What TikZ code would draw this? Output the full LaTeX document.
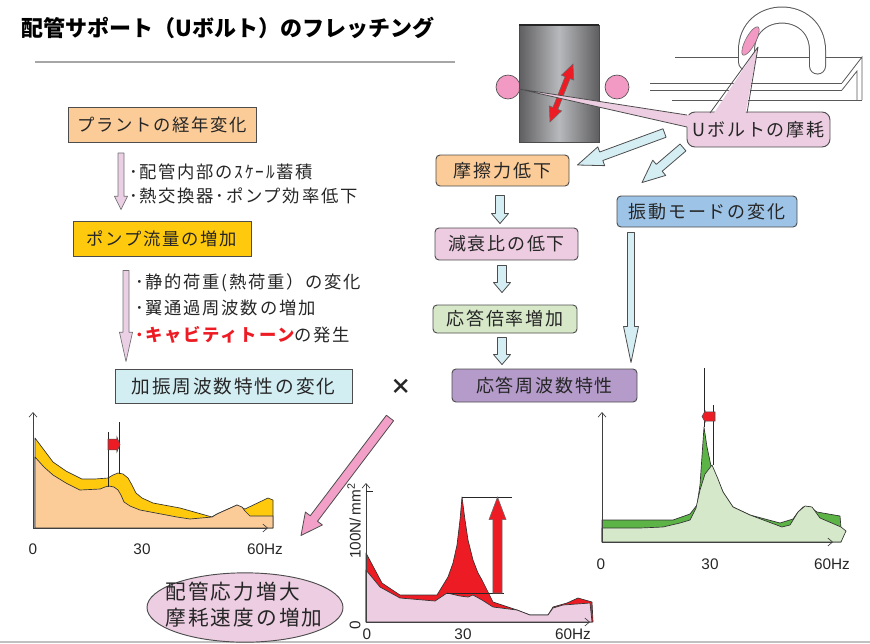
\documentclass[tikz,border=0pt]{standalone}
\usepackage{fontspec}
\setmainfont{Noto Sans CJK JP}[LetterSpace=10]
\newfontfamily\headfont{Noto Sans CJK JP}
\newfontfamily\numfont{Liberation Sans}
\usetikzlibrary{calc,shapes.geometric,arrows.meta}

\definecolor{peach}{HTML}{FBCB98}
\definecolor{gold}{HTML}{FFC90E}
\definecolor{paleblue}{HTML}{D3EEF3}
\definecolor{rosebox}{HTML}{EDCBE1}
\definecolor{mint}{HTML}{D6E8C8}
\definecolor{lilac}{HTML}{B49BCA}
\definecolor{skyb}{HTML}{9DC3E6}
\definecolor{arrowcyan}{HTML}{D5EEF4}
\definecolor{edge}{HTML}{4D4D4D}
\definecolor{txt}{HTML}{262626}
\definecolor{hotpink}{HTML}{F3A0C8}
\definecolor{redd}{HTML}{ED1C24}
\definecolor{leaf}{HTML}{5CB446}
\definecolor{paleleaf}{HTML}{D5E8C9}
\definecolor{palerose}{HTML}{ECCDE1}
\definecolor{lavfill}{HTML}{EBD0E5}
\definecolor{rulegray}{HTML}{A6A6A6}
\definecolor{cylD}{HTML}{5E5E60}
\definecolor{cylL}{HTML}{B8B9BC}
\definecolor{ringpink}{HTML}{F29AC3}

% block arrow: style, tail, tip, shaft half width, head half width, head length
\newcommand\blkarrow[6]{%
  \coordinate (ba-s) at (#2);
  \coordinate (ba-t) at (#3);
  \coordinate (ba-h) at ($(ba-t)!#6!(ba-s)$);
  \filldraw[#1] ($(ba-s)!#4!90:(ba-t)$) -- ($(ba-h)!#4!90:(ba-t)$) --
    ($(ba-h)!#5!90:(ba-t)$) -- (ba-t) -- ($(ba-h)!#5!-90:(ba-t)$) --
    ($(ba-h)!#4!-90:(ba-t)$) -- ($(ba-s)!#4!-90:(ba-t)$) -- cycle;
}
% double-headed block arrow: style, end A, end B, shaft half width, head half width, head length
\newcommand\dblarrow[6]{%
  \coordinate (da-s) at (#2);
  \coordinate (da-t) at (#3);
  \coordinate (da-h) at ($(da-t)!#6!(da-s)$);
  \coordinate (da-g) at ($(da-s)!#6!(da-t)$);
  \filldraw[#1] ($(da-g)!#4!90:(da-t)$) -- ($(da-h)!#4!90:(da-t)$) --
    ($(da-h)!#5!90:(da-t)$) -- (da-t) -- ($(da-h)!#5!-90:(da-t)$) --
    ($(da-h)!#4!-90:(da-t)$) -- ($(da-g)!#4!-90:(da-t)$) --
    ($(da-g)!#5!-90:(da-t)$) -- (da-s) -- ($(da-g)!#5!90:(da-t)$) -- cycle;
}

\tikzset{
  box/.style={draw=edge, line width=0.7pt, inner sep=0pt, text=txt,
    font=\fontsize{13.5}{16}\selectfont},
  rbox/.style={box, rounded corners=3pt},
  bullet/.style={anchor=west, inner sep=0pt, text=txt, font=\fontsize{13}{16}\selectfont},
  axis/.style={draw=black!75, line width=0.5pt, -{Straight Barb[length=3.5pt,width=6pt]}},
  curve/.style={draw=black!80, line width=0.5pt, line join=round},
  tick/.style={inner sep=0pt, text=txt, font=\numfont\fontsize{11.5}{13}\selectfont},
  guide/.style={draw=black!85, line width=0.5pt},
  cyanarrow/.style={fill=arrowcyan, draw=edge, line width=0.6pt, line join=round},
  lavarrow/.style={fill=lavfill, draw=edge!80, line width=0.5pt, line join=round},
  plate/.style={draw=black!65, line width=0.6pt},
}

\begin{document}
\begin{tikzpicture}[x=0.75pt,y=-0.75pt]
\useasboundingbox (0,0) rectangle (870,643);

% ---------- heading ----------
\node[anchor=west, inner sep=0pt, text=black,
  font=\headfont\bfseries\fontsize{16.5}{19}\selectfont] (title) at (21,28)
  {配管サポート（Uボルト）のフレッチング};
\draw[rulegray, line width=2pt] (35,62) -- (455,62);
\draw[rulegray!70, line width=1.5pt] (0,641.8) -- (870,641.8);

% ---------- pipe with support pads ----------
\filldraw[fill=ringpink, draw=black!70, line width=0.5pt] (508,87) circle[radius=12];
\filldraw[fill=ringpink, draw=black!70, line width=0.5pt] (617,87) circle[radius=12];
\shade[left color=cylD, right color=cylD, middle color=cylL] (519,25) rectangle (599,142);
\draw[black!70, line width=0.5pt] (519,25) rectangle (599,142);
\draw[black!85, line width=1.2pt] (519,25) -- (599,25);
\dblarrow{fill=redd, draw=black!60, line width=0.4pt}{550,122}{573,64}{2pt}{5pt}{11pt}

% ---------- angle steel and U-bolt ----------
\draw[plate] (675,57) -- (862,57);
\draw[plate] (650,83) -- (842,83);
\draw[plate] (650,90) -- (842,90);
\draw[plate] (842,83) -- (862,57) -- (862,100);
\draw[plate] (842,90) -- (857,71) -- (857,100);
\draw[plate] (672,100) -- (862,100);
\draw[black!65, line width=12.75pt, line cap=round]
  (746.5,62) -- (746.5,50.5) .. controls (746.5,3.2) and (817.5,3.2) .. (817.5,50.5) -- (817.5,66);
\draw[white, line width=11.25pt, line cap=round]
  (746.5,62) -- (746.5,50.5) .. controls (746.5,3.2) and (817.5,3.2) .. (817.5,50.5) -- (817.5,66);
\node[ellipse, fill=ringpink, draw=black!60, line width=0.4pt, inner sep=0pt,
  minimum width=24pt, minimum height=7.5pt, rotate=62] (wearspot) at (750.5,41) {};

% ---------- callout ----------
\node[fill=palerose, draw=edge, line width=0.7pt, rounded corners=6pt,
  minimum width=107.25pt, minimum height=26.25pt, inner sep=0pt] (wearbox) at (758.5,129.5) {};
\fill[palerose] (519,89) -- (691,115.6) -- (691,127.9) -- cycle;
\draw[edge, line width=0.6pt, line join=round] (687,115) -- (519,89) -- (687,127);
\fill[palerose] (712,116) -- (758,47) -- (745,116) -- cycle;
\draw[edge, line width=0.6pt, line join=round] (710,113) -- (758,47) -- (747,113);
\node[inner sep=0pt, text=txt, font=\fontsize{13.5}{16}\selectfont] (wear) at (wearbox.center) {Uボルトの摩耗};

% ---------- left chain ----------
\node[box, fill=peach, minimum width=141pt, minimum height=26.25pt, font=\fontsize{13}{16}\selectfont]
  (plant) at (162,125) {プラントの経年変化};
\node[box, fill=gold, minimum width=133.5pt, minimum height=26.25pt, font=\fontsize{13}{16}\selectfont]
  (pump) at (162,238.5) {ポンプ流量の増加};
\node[box, fill=paleblue, minimum width=177.75pt, minimum height=25.5pt, font=\fontsize{14}{16}\selectfont]
  (excite) at (233.5,386) {加振周波数特性の変化};

\blkarrow{lavarrow}{$(plant.south)+(-41,10)$}{$(pump.north)+(-41,-11)$}{2.25pt}{4.9pt}{10pt}
\blkarrow{lavarrow}{$(pump.south)+(-36,14)$}{$(excite.north)+(-107.5,-7)$}{2.25pt}{4.9pt}{22pt}

\node[bullet] (b1) at (129,172) {･配管内部のｽｹｰﾙ蓄積};
\node[bullet] (b2) at (129,196) {･熱交換器･ポンプ効率低下};
\node[bullet] (b3) at (135,283) {･静的荷重(熱荷重）の変化};
\node[bullet] (b4) at (135,308) {･翼通過周波数の増加};
\node[bullet] (b5) at (135,335) {{\color{redd}\bfseries ･キャビティトーン}の発生};

\node[inner sep=0pt, text=txt, font=\bfseries\fontsize{16}{18}\selectfont] (times) at (401,387) {×};

% ---------- middle chain ----------
\node[rbox, fill=peach, minimum width=99.75pt, minimum height=23.25pt] (fric) at (502.5,170.5) {摩擦力低下};
\node[rbox, fill=rosebox, minimum width=107.25pt, minimum height=24pt] (damp) at (506.5,244) {減衰比の低下};
\node[rbox, fill=mint, minimum width=108pt, minimum height=21pt] (gain) at (505,319) {応答倍率増加};
\node[rbox, fill=lilac, minimum width=138.75pt, minimum height=24.75pt] (resp) at (544.5,385.5) {応答周波数特性};
\node[rbox, fill=skyb, minimum width=135pt, minimum height=23.25pt] (mode) at (707,211.5) {振動モードの変化};

\blkarrow{cyanarrow}{$(fric.south)+(-2.5,9)$}{$(damp.north)+(-6.5,-4)$}{3.4pt}{6.4pt}{7.5pt}
\blkarrow{cyanarrow}{$(damp.south)+(-4.5,5)$}{$(gain.north)+(-3,-12)$}{3.4pt}{6.4pt}{7.5pt}
\blkarrow{cyanarrow}{$(gain.south)+(-3,4)$}{$(resp.north)+(-42.5,-4)$}{3.4pt}{6.4pt}{7.5pt}
\blkarrow{cyanarrow}{$(mode.south)+(-76,5)$}{$(resp.north)+(86.5,-6)$}{2.6pt}{5.6pt}{27pt}
\blkarrow{cyanarrow}{$(wearbox.west)+(-22,3.5)$}{$(fric.east)+(8,-5.5)$}{3.4pt}{7.5pt}{19pt}
\blkarrow{cyanarrow}{$(wearbox.south)+(-75.5,0)$}{$(mode.north)+(-65,-13)$}{3.4pt}{7.5pt}{17pt}

% ---------- result ----------
\node[ellipse, fill=palerose, draw=edge, line width=0.7pt, inner sep=0pt,
  minimum width=147pt, minimum height=52pt] (stress) at (245,607.5) {};
\node[inner sep=0pt, align=left, text=txt, font=\fontsize{15.5}{19.5}\selectfont]
  (stresstext) at (244,605) {配管応力増大\\摩耗速度の増加};
\blkarrow{fill=hotpink, draw=edge, line width=0.6pt, line join=round}{$(times)+(-11,31)$}{$(stress)+(56,-72)$}{3.4pt}{8pt}{16pt}

% ---------- excitation spectrum ----------
\filldraw[curve, fill=gold] (35,438) -- (44,450) -- (53,462) -- (66,471) -- (82,479) -- (95,479)
  -- (108,478) -- (113,475) -- (118,473) -- (123,474) -- (128,478) -- (132,485) -- (136,493)
  -- (142,498) -- (153,503) -- (180,508) -- (212,517) -- (217,514) -- (237,505) -- (245,509)
  -- (268,498) -- (273,500) -- (273,528) -- (35,528) -- cycle;
\filldraw[curve, fill=peach] (35,457) -- (44,467) -- (53,475) -- (66,483) -- (80,490) -- (100,489)
  -- (105,487) -- (109,486) -- (114,487) -- (118,490) -- (121,495) -- (124,502) -- (130,506)
  -- (140,510) -- (177,517) -- (190,519) -- (212,517) -- (217,514) -- (237,505) -- (242,507)
  -- (245,511) -- (250,516) -- (273,516) -- (273,528) -- (35,528) -- cycle;
\draw[guide] (108,432) -- (108,487);
\draw[guide] (119,422) -- (119,474);
\blkarrow{fill=redd, draw=black!70, line width=0.4pt}{108,444.5}{120,444.5}{4.1pt}{5.6pt}{2.3pt}
\coordinate (o1) at (33,528);
\draw[axis] (o1) -- (33,412);
\draw[axis] (o1) -- (268,528);
\node[tick] (l1a) at (33,549) {0};
\node[tick] (l1b) at (142,549) {30};
\node[tick] (l1c) at (265,549) {60Hz};

% ---------- stress spectrum ----------
\filldraw[curve, fill=redd] (366,553) -- (382,583) -- (400,595) -- (437,595) -- (448,577)
  -- (453,563) -- (457,545) -- (460,520) -- (462,497) -- (465,520) -- (468,540) -- (473,560)
  -- (478,573) -- (482,580) -- (493,602) -- (517,610) -- (530,615) -- (548,615) -- (553,607)
  -- (567,603) -- (578,598) -- (592,602) -- (593,622) -- (366,622) -- cycle;
\filldraw[curve, fill=palerose] (366,570) -- (380,587) -- (400,598) -- (435,601) -- (447,593)
  -- (460,596) -- (468,597) -- (473,595) -- (482,600) -- (493,607) -- (517,610) -- (530,615)
  -- (548,615) -- (553,608) -- (563,605) -- (590,603) -- (592,622) -- (366,622) -- cycle;
\coordinate (pk) at (462,497);
\coordinate (base) at (447,593);
\draw[guide] (pk) -- (512,497);
\draw[guide] (base) -- (504,593);
\blkarrow{fill=redd, draw=black!60, line width=0.4pt}{497.5,593}{497.5,497}{3.4pt}{6.4pt}{17pt}
\coordinate (o2) at (366,622);
\draw[axis] (o2) -- (366,483);
\draw[guide] (366,491) -- (373,491);
\draw[axis] (o2) -- (590,622);
\node[tick, rotate=90] (unit) at (354,521) {100N/\,mm\textsuperscript{2}};
\node[tick, rotate=90] (l2z) at (355,625) {0};
\node[tick] (l2a) at (367,634) {0};
\node[tick] (l2b) at (463,634) {30};
\node[tick] (l2c) at (573,634) {60Hz};

% ---------- response spectrum ----------
\filldraw[curve, fill=leaf] (602,520) -- (673,520) -- (690,514) -- (697,505) -- (700,485)
  -- (704,427) -- (707,447) -- (711,466) -- (717,478) -- (723,492) -- (733,507) -- (750,515)
  -- (780,523) -- (793,519) -- (798,512) -- (803,507) -- (810,507) -- (817,512) -- (840,516)
  -- (841,528) -- (841,542) -- (602,542) -- cycle;
\filldraw[curve, fill=paleleaf] (602,528) -- (640,528) -- (663,527) -- (680,523) -- (690,520)
  -- (696,508) -- (700,490) -- (705,474) -- (712,465) -- (718,479) -- (723,492) -- (733,507)
  -- (750,515) -- (782,527) -- (790,525) -- (798,512) -- (805,506) -- (812,507) -- (820,518)
  -- (841,527) -- (846,531) -- (841,542) -- (602,542) -- cycle;
\draw[guide] (704,368) -- (704,427);
\draw[guide] (713,405) -- (713,465);
\blkarrow{fill=redd, draw=black!70, line width=0.4pt}{715,416.5}{702,416.5}{3.4pt}{4.1pt}{2.3pt}
\coordinate (o3) at (602,542);
\draw[axis] (o3) -- (602,412);
\draw[axis] (o3) -- (833,542);
\node[tick] (l3a) at (601,564) {0};
\node[tick] (l3b) at (710,564) {30};
\node[tick] (l3c) at (832,564) {60Hz};
\end{tikzpicture}
\end{document}
